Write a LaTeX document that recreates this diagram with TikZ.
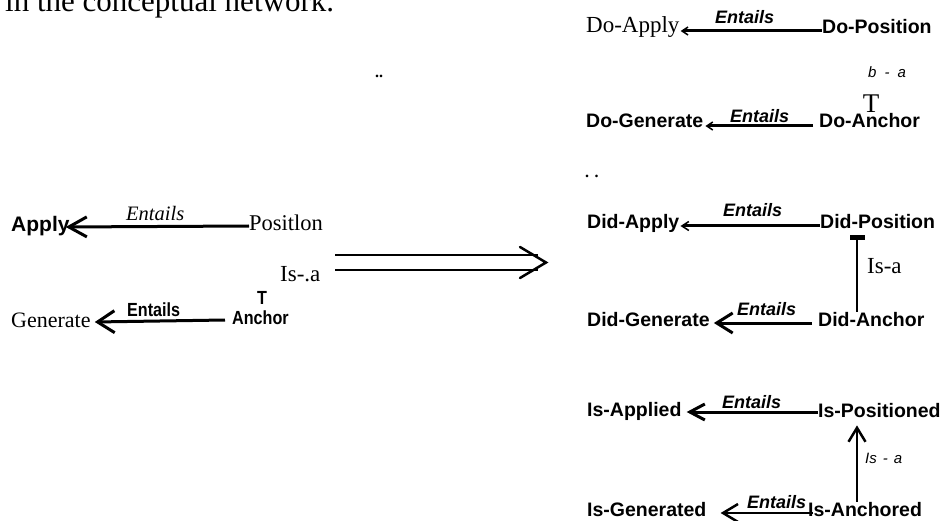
\documentclass[tikz,border=0pt]{standalone}
\usepackage{fontspec}
\setmainfont{Liberation Serif}
\setsansfont{Liberation Sans}
\newfontfamily\narrowsans[FakeStretch=0.85]{Liberation Sans}
\usetikzlibrary{arrows.meta}
\begin{document}
\begin{tikzpicture}[x=1pt,y=-1pt,
  lbl/.style={inner sep=0pt, anchor=base west},
  bsans/.style={lbl, font=\fontsize{19.5}{20}\selectfont\sffamily\bfseries},
  serif/.style={lbl, font=\fontsize{23}{24}\selectfont\rmfamily},
  entR/.style={lbl, font=\fontsize{18}{18}\selectfont\sffamily\bfseries\itshape},
  isalbl/.style={lbl, font=\fontsize{15}{15}\selectfont\sffamily\itshape},
  link/.style={line width=3pt},
  smallhead/.style={link, -{Straight Barb[length=6pt,width=8pt,line width=1.5pt]}},
  bighead/.style={link, -{Straight Barb[length=16pt,width=20pt]}},
]
\useasboundingbox (0,0) rectangle (944,521);
\clip (0,0) rectangle (944,521);

% caption fragment and stray dots
\node[lbl, font=\fontsize{31}{32}\selectfont\rmfamily] (title) at (5,12) {in the conceptual network.};
\node[lbl, font=\fontsize{16}{16}\selectfont\bfseries] (dotsa) at (375,78) {..};

% ---------- left network ----------
\node[lbl, font=\fontsize{21}{21}\selectfont\sffamily\bfseries] (apply) at (11,232) {Apply};
\node[lbl, font=\fontsize{22.5}{23}\selectfont\rmfamily] (posit) at (249,230) {Positlon};
\node[lbl, font=\fontsize{20.5}{21}\selectfont\rmfamily\itshape] (ent1) at (126,221) {Entails};
\draw[link, -{Straight Barb[length=18pt,width=20pt]}] ([yshift=4pt]posit.base west) -- ([xshift=-4pt,yshift=5pt]apply.base east);

\node[serif] (isa1) at (280,281) {Is-.a};
\coordinate (dstart) at (335,262.5);
\coordinate (dend) at (546,262.5);
\draw[line width=2.5pt] ([yshift=7.5pt]dstart) -- ([xshift=-8pt,yshift=7.5pt]dend)
                        ([yshift=-7.5pt]dstart) -- ([xshift=-8pt,yshift=-7.5pt]dend);
\draw[line width=2.5pt, line cap=round] ([xshift=-26pt,yshift=15.5pt]dend) -- (dend) -- ([xshift=-26pt,yshift=-15.5pt]dend);

\node[inner sep=0pt, anchor=base, font=\fontsize{19}{19}\selectfont\narrowsans\bfseries] (tl) at (262,304) {T};
\node[lbl, font=\fontsize{19}{19}\selectfont\narrowsans\bfseries] (anchor) at (232,324) {Anchor};
\node[lbl, font=\fontsize{19}{19}\selectfont\narrowsans\bfseries] (ent2) at (127,316) {Entails};
\node[lbl, font=\fontsize{22}{22}\selectfont\rmfamily] (generate) at (11,327) {Generate};
\draw[link, -{Straight Barb[length=17pt,width=22pt]}] ([xshift=-7pt,yshift=4pt]anchor.base west) -- ([xshift=4pt,yshift=5pt]generate.base east);

% ---------- right network ----------
% Do- pair
\node[serif] (doapply) at (586,33) {Do-Apply};
\node[bsans] (dopos) at (822,34) {Do-Position};
\node[entR] (ent3) at (715,24) {Entails};
\draw[smallhead] ([yshift=3pt]dopos.base west) -- ([xshift=1pt,yshift=2pt]doapply.base east);
\node[isalbl] (isa2) at (868,78) {b\hspace{8pt}-\hspace{8pt}a};
\node[inner sep=0pt, anchor=base, font=\fontsize{27}{27}\selectfont\rmfamily] (tr) at (871,113) {T};
\node[bsans] (dogen) at (586,128) {Do-Generate};
\node[bsans] (doanch) at (819,128) {Do-Anchor};
\node[entR] (ent4) at (730,123) {Entails};
\draw[smallhead] ([xshift=-6pt,yshift=2pt]doanch.base west) -- ([xshift=2pt,yshift=2pt]dogen.base east);

\node[lbl, font=\fontsize{16}{16}\selectfont\bfseries] (dotsb) at (585,178) {. .};

% Did- pair
\node[bsans] (didapply) at (587,229) {Did-Apply};
\node[bsans] (didpos) at (820,229) {Did-Position};
\node[entR] (ent5) at (723,217) {Entails};
\draw[link, -{Straight Barb[length=7pt,width=9pt,line width=1.5pt]}] ([yshift=3pt]didpos.base west) -- ([xshift=1pt,yshift=3pt]didapply.base east);
\node[bsans] (didgen) at (587,326) {Did-Generate};
\node[bsans] (didanch) at (818,326) {Did-Anchor};
\node[entR] (ent6) at (737,315) {Entails};
\draw[bighead] ([xshift=-6pt,yshift=3pt]didanch.base west) -- ([xshift=4pt,yshift=3pt]didgen.base east);
\draw[line width=2.5pt, -{Rectangle[length=5pt,width=15pt]}] ([xshift=39pt]didanch.north west) -- ([xshift=37pt,yshift=-6pt]didpos.south west);
\node[serif] (isa3) at (867,273) {Is-a};

% Is- pair
\node[bsans] (isapplied) at (587,416) {Is-Applied};
\node[bsans] (ispos) at (818,417) {Is-Positioned};
\node[entR] (ent7) at (722,408) {Entails};
\draw[link, -{Straight Barb[length=15pt,width=16pt]}] ([yshift=5pt]ispos.base west) -- ([xshift=5pt,yshift=4pt]isapplied.base east);
\node[bsans] (isgen) at (587,516) {Is-Generated};
\node[bsans] (isanch) at (808,516) {Is-Anchored};
\node[entR] (ent8) at (747,508) {Entails};
\draw[line width=2.5pt, -{Straight Barb[length=15pt,width=18pt]}] ([xshift=5pt,yshift=3pt]isanch.base west) -- ([xshift=14pt,yshift=3pt]isgen.base east);
\draw[line width=2.5pt, -{Straight Barb[length=14pt,width=17pt]}] ([xshift=49pt]isanch.north west) -- ([xshift=39pt,yshift=-8pt]ispos.south west);
\node[isalbl] (isa4) at (865,463) {Is\hspace{6pt}-\hspace{6pt}a};
\end{tikzpicture}
\end{document}
